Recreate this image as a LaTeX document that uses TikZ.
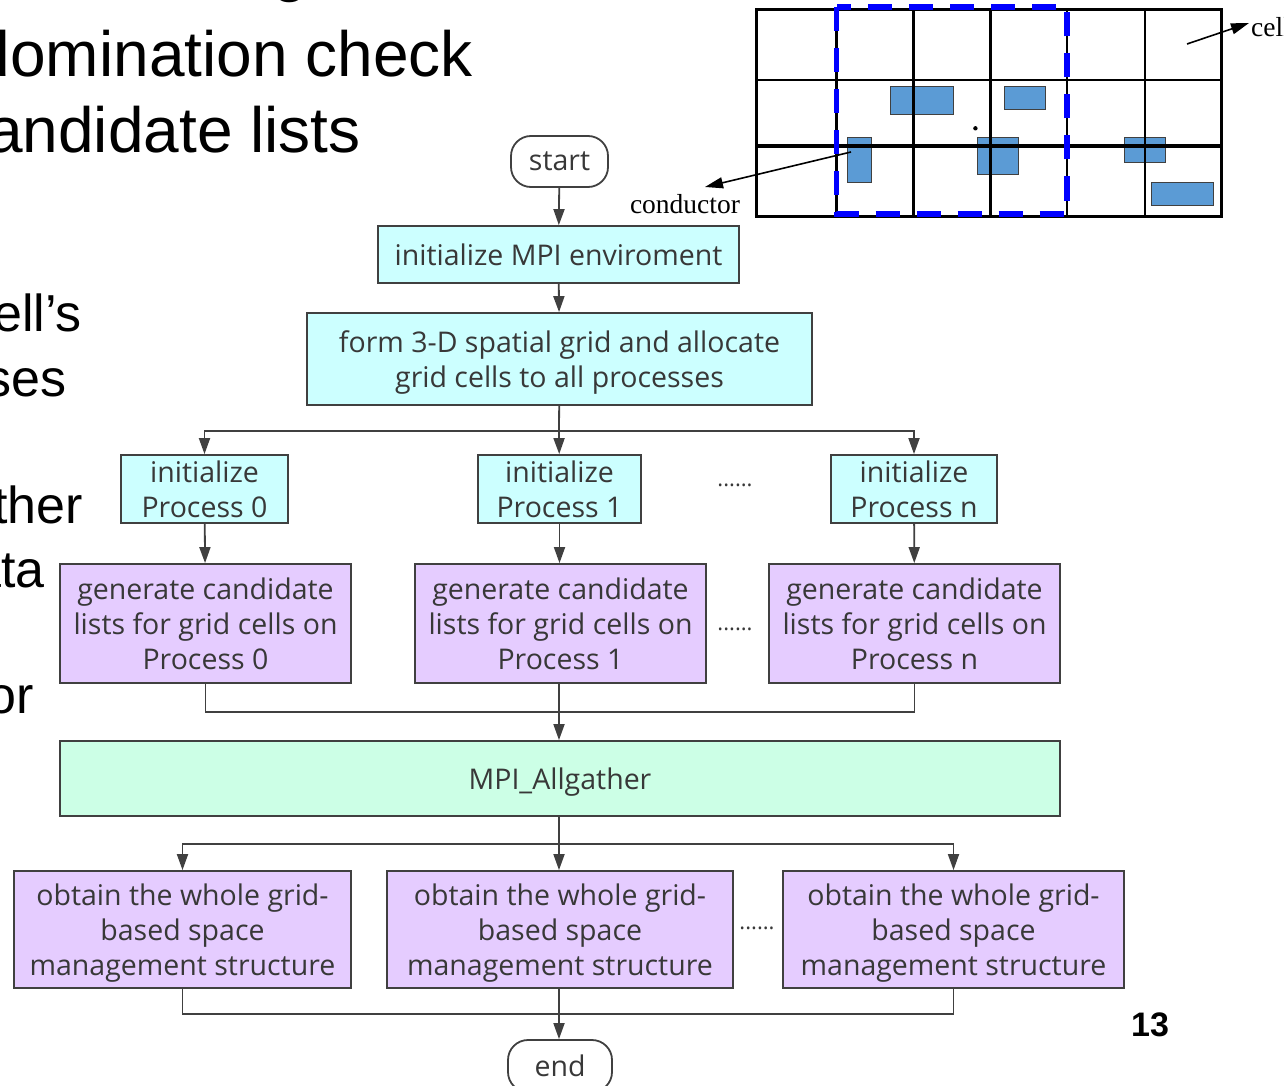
\documentclass[tikz,border=0pt]{standalone}
\usepackage{fontspec}
\setmainfont{Liberation Sans}
\newfontfamily\flowfont{Open Sans}
\newfontfamily\figserif{Liberation Serif}
\usetikzlibrary{arrows.meta}
\definecolor{boxline}{HTML}{404040}
\definecolor{flowtext}{HTML}{383838}
\definecolor{cyanfill}{HTML}{CCFFFF}
\definecolor{lilacfill}{HTML}{E5CCFF}
\definecolor{mintfill}{HTML}{CCFFE6}
\definecolor{condfill}{HTML}{5B9BD5}
% last line of a box set without depth, so every box centres alike
\newcommand\nodepth[1]{\raisebox{0pt}[\height][0pt]{#1}}
\begin{document}
\begin{tikzpicture}[x=1pt,y=-1pt,
  box/.style={draw=boxline, line width=1.8pt, text=flowtext, align=center, inner sep=0pt,
    font=\flowfont\fontsize{28.5}{35}\selectfont},
  termbox/.style={box, rounded corners=20pt},
  initbox/.style={box, fill=cyanfill},
  genbox/.style={box, fill=lilacfill},
  gatherbox/.style={box, fill=mintfill},
  link/.style={draw=boxline, line width=1.8pt},
  flow/.style={link, -{Triangle[length=16pt,width=11pt]}},
  dots/.style={text=flowtext, inner sep=0pt, font=\flowfont\fontsize{22}{22}\selectfont},
  slidetext/.style={anchor=base east, inner sep=0pt, font=\fontsize{52}{52}\selectfont},
  headtext/.style={anchor=base east, inner sep=0pt, font=\fontsize{64}{64}\selectfont},
  gridline/.style={line width=2.5pt, black},
  conductor/.style={fill=condfill, draw=black!75, line width=0.8pt},
  pointer/.style={line width=1.6pt, black, -{Triangle[length=18pt,width=11pt]}},
  figlabel/.style={inner sep=0pt, font=\figserif\fontsize{27.5}{27.5}\selectfont}
]
\useasboundingbox (0,0) rectangle (1284,1086);
\clip (0,0) rectangle (1284,1086);

% slide text, running off the edges
\node[headtext, anchor=base west] (h0) at (272,-10) {g};
\node[headtext] (h1) at (473,77) {domination check};
\node[headtext] (h2) at (361,153) {candidate lists};
\node[slidetext] (b1) at (82,331) {cell’s};
\node[slidetext] (b2) at (67,396) {processes};
\node[slidetext] (b3) at (83,523) {gather};
\node[slidetext] (b4) at (45,587) {data};
\node[slidetext] (b5) at (34,713) {for};
\node[inner sep=0pt, font=\bfseries\fontsize{34}{34}\selectfont] (pg) at (1150,1025) {13};

% spatial grid with conductors
\draw[conductor] (890,86) rectangle (953.5,114);
\draw[conductor] (1004.6,86) rectangle (1045.6,109);
\draw[conductor] (847,137) rectangle (871,182);
\draw[conductor] (977.5,137) rectangle (1018.5,174);
\draw[conductor] (1124.7,137) rectangle (1165.4,162);
\draw[conductor] (1151.8,182) rectangle (1213,205);
\foreach \gx in {836.5,913.6,990.7,1067,1145}
  \draw[gridline] (\gx,10) -- (\gx,216);
\draw[gridline] (756,80) -- (1221,80);
\draw[line width=4pt] (756,146) -- (1221,146);
\draw[line width=3pt] (756,10) rectangle (1221,216);
\draw[blue, line width=5.5pt, dash pattern=on 24pt off 17pt] (836.5,7) rectangle (1067,214);
\fill (975.4,128.3) circle (2.2);

\coordinate (condtip) at (705,187);
\coordinate (condtail) at (851,152);
\node[figlabel] (condlbl) at (685,204) {conductor};
\draw[pointer] (condtail) -- (condtip);
\coordinate (celltail) at (1187,44);
\coordinate (celltip) at (1249,23);
\node[figlabel, anchor=base west] (celllbl) at (1251,37) {cell};
\draw[pointer] (celltail) -- (celltip);

% flowchart
\node[termbox, minimum width=97, minimum height=51] (start) at (559.5,161.5) {start};
\node[initbox, minimum width=361, minimum height=57] (mpi) at (558.5,254.5) {initialize MPI enviroment};
\node[initbox, minimum width=505, minimum height=92] (grid) at (559.5,359) {form 3-D spatial grid and allocate\\\nodepth{grid cells to all processes}};

\node[initbox, minimum width=167, minimum height=68] (ip0) at (204.5,489) {initialize\\Process 0};
\node[initbox, minimum width=163, minimum height=68] (ip1) at (559.5,489) {initialize\\Process 1};
\node[initbox, minimum width=166, minimum height=68] (ipn) at (914,489) {initialize\\Process n};
\node[dots] (d1) at (735,485) {......};

\node[genbox, minimum width=291, minimum height=119] (gc0) at (205.5,623.5) {generate candidate\\lists for grid cells on\\Process 0};
\node[genbox, minimum width=291, minimum height=119] (gc1) at (560.5,623.5) {generate candidate\\lists for grid cells on\\Process 1};
\node[genbox, minimum width=291, minimum height=119] (gcn) at (914.5,623.5) {generate candidate\\lists for grid cells on\\Process n};
\node[dots] (d2) at (735,629) {......};

\node[gatherbox, minimum width=1000, minimum height=75] (gather) at (560,778.5) {\nodepth{MPI\_Allgather}};

\node[genbox, minimum width=337, minimum height=117] (ob0) at (182.5,929.5) {obtain the whole grid-\\based space\\\nodepth{management structure}};
\node[genbox, minimum width=346, minimum height=117] (ob1) at (560,929.5) {obtain the whole grid-\\based space\\\nodepth{management structure}};
\node[genbox, minimum width=341, minimum height=117] (obn) at (953.5,929.5) {obtain the whole grid-\\based space\\\nodepth{management structure}};
\node[dots] (d3) at (757,928) {......};

\node[termbox, minimum width=104, minimum height=52] (end) at (560,1066) {end};

\coordinate (split1) at (559,431);
\coordinate (merge1) at (559,712);
\coordinate (split2) at (559,844);
\coordinate (merge2) at (559,1014);

\draw[flow] (start) -- (mpi);
\draw[flow] (mpi) -- (grid);
\draw[link] (grid) -- (split1);
\draw[flow] (split1) -| (ip0);
\draw[flow] (split1) -- (ip1);
\draw[flow] (split1) -| (ipn);
\draw[flow] (ip0) -- (gc0);
\draw[flow] (ip1.south) -- (ip1.south |- gc1.north);
\draw[flow] (ipn) -- (gcn);
\draw[link] (gc0) |- (merge1);
\draw[link] (gcn) |- (merge1);
\draw[flow] (gc1.south -| merge1) -- (gather.north -| merge1);
\draw[link] (gather.south -| split2) -- (split2);
\draw[flow] (split2) -| (ob0);
\draw[flow] (split2) -- (split2 |- ob1.north);
\draw[flow] (split2) -| (obn);
\draw[link] (ob0) |- (merge2);
\draw[link] (obn) |- (merge2);
\draw[flow] (ob1.south -| merge2) -- (end.north -| merge2);
\end{tikzpicture}
\end{document}
